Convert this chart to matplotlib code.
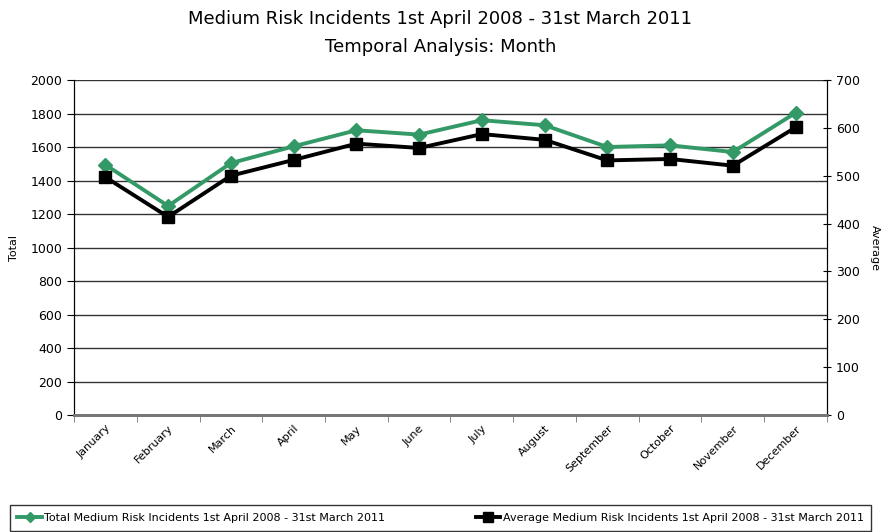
import numpy as np
import matplotlib.pyplot as plt

months = ['January', 'February', 'March', 'April', 'May', 'June', 'July',
          'August', 'September', 'October', 'November', 'December']
total = [1494, 1248, 1504, 1604, 1700, 1674, 1760, 1730, 1600, 1610, 1570, 1804]
average = [497, 414, 500, 533, 567, 558, 587, 575, 532, 535, 521, 601]

total_label = 'Total Medium Risk Incidents 1st April 2008 - 31st March 2011'
avg_label = 'Average Medium Risk Incidents 1st April 2008 - 31st March 2011'

fig = plt.figure(figsize=(8.81, 5.32), dpi=100)
ax = fig.add_axes([0.084, 0.2199, 0.8547, 0.6297])
ax2 = ax.twinx()

x = np.arange(len(months))
l1, = ax.plot(x, total, color='#339966', lw=2.8, marker='D', ms=7, zorder=3,
              label=total_label)
l2, = ax2.plot(x, average, color='black', lw=2.8, marker='s', ms=9, zorder=3,
               label=avg_label)

ax.set_xlim(-0.5, 11.5)
ax.set_ylim(0, 2000)
ax.set_yticks(range(0, 2001, 200))
ax2.set_ylim(0, 700)
ax2.set_yticks(range(0, 701, 100))

ax.set_xticks(x)
ax.set_xticklabels(months, rotation=45, ha='right', rotation_mode='anchor', fontsize=8)
ax.set_xticks(np.arange(-0.5, 12, 1), minor=True)
ax.tick_params(axis='x', which='major', length=0, pad=6)
ax.tick_params(axis='x', which='minor', length=5, direction='out', color='#777777')
ax.tick_params(axis='y', labelsize=9, length=5, direction='out')
ax2.tick_params(axis='y', labelsize=9, length=6, direction='inout')

ax.grid(axis='y', color='#333333', lw=1)
ax.set_axisbelow(True)
for a in (ax, ax2):
    a.spines['top'].set_visible(False)
    a.spines['bottom'].set_color('#777777')
    a.spines['bottom'].set_linewidth(2)

ax.set_ylabel('Total', fontsize=8, labelpad=8)
ax2.set_ylabel('Average', fontsize=8, rotation=270, labelpad=14)

fig.text(0.5, 0.965, 'Medium Risk Incidents 1st April 2008 - 31st March 2011',
         ha='center', va='center', fontsize=13)
fig.text(0.5, 0.912, 'Temporal Analysis: Month', ha='center', va='center', fontsize=13)

leg = fig.legend(handles=[l1, l2], loc='lower left', ncol=2,
                 bbox_to_anchor=(0.011, 0.002, 0.978, 0.044), mode='expand',
                 fontsize=8, frameon=True, fancybox=False, edgecolor='black',
                 handlelength=2.2, handletextpad=0.2, borderaxespad=0,
                 borderpad=0.7, markerscale=0.75)
leg.get_frame().set_linewidth(1)

fig.savefig('out.png', dpi=100)
